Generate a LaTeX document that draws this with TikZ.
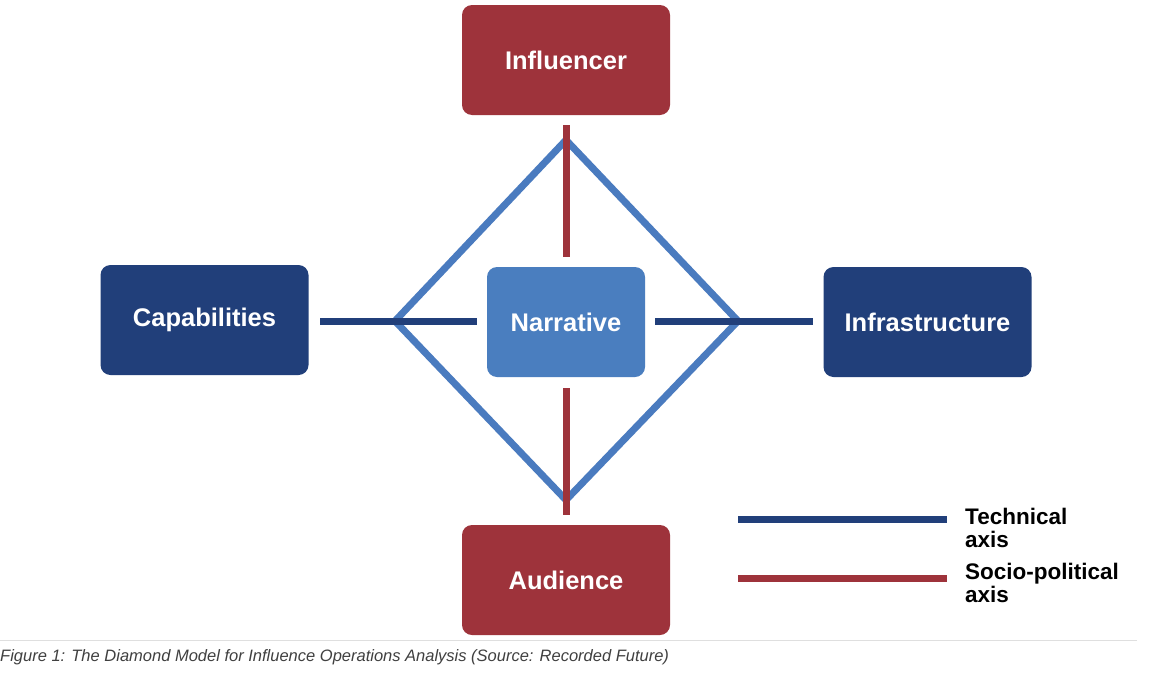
\documentclass[tikz,border=0pt]{standalone}
\usepackage{fontspec}
\setmainfont{Liberation Sans}
\begin{document}
\begin{tikzpicture}[x=1pt,y=-1pt,
 box/.style={rounded corners=10pt,minimum width=208pt,minimum height=110pt,text=white,font=\fontsize{25.5}{30}\selectfont\bfseries,inner sep=0pt},
 red/.style={box,fill=axred},
 blue/.style={box,fill=axblue},
 tl/.style={line width=7pt,axblue},
 sl/.style={line width=7pt,axred},
 dl/.style={line width=7pt,diam},
 leg/.style={font=\fontsize{22.5}{23}\selectfont\bfseries,align=left,anchor=north west,inner sep=0pt}]
\definecolor{axred}{HTML}{9E333B}
\definecolor{axblue}{HTML}{213F7A}
\definecolor{diam}{HTML}{4A7BBF}
\definecolor{narr}{HTML}{4A7EBF}
\useasboundingbox (0,0) rectangle (1150,688);
\fill[white] (0,0) rectangle (1150,688);
\coordinate (dt) at (566,140); \coordinate (dlft) at (395,321);
\coordinate (dr) at (738,321); \coordinate (db) at (566,500);
\draw[dl,line join=miter] (dt)--(dr)--(db)--(dlft)--cycle;
\coordinate (s1) at (566,125); \coordinate (s2) at (566,257);
\coordinate (s3) at (566,388); \coordinate (s4) at (566,515);
\draw[sl] (s1)--(s2); \draw[sl] (s3)--(s4);
\coordinate (t1) at (320,321); \coordinate (t2) at (477,321);
\coordinate (t3) at (655,321); \coordinate (t4) at (813,321);
\draw[tl] (t1)--(t2); \draw[tl] (t3)--(t4);
\node[red] (inf) at (566,60) {Influencer};
\node[red] (aud) at (566,580) {Audience};
\node[blue] (cap) at (204.5,320) {Capabilities};
\node[blue] (infra) at (927.5,322) {Infrastructure};
\node[box,fill=narr,minimum width=158pt] (nar) at (566,322) {Narrative};
\coordinate (l1) at (738,519); \coordinate (l2) at (947,519);
\coordinate (l3) at (738,578); \coordinate (l4) at (947,578);
\draw[tl] (l1)--(l2); \draw[sl] (l3)--(l4);
\node[leg] (lt) at (965,508) {Technical\\axis};
\node[leg] (ls) at (965,563) {Socio-political\\axis};
\draw[gray!25,line width=1pt] (0,640)--(1137,640);
\node[anchor=west,inner sep=0pt,text=black!75,font=\fontsize{16.5}{19}\selectfont\itshape] (cap2) at (0,657) {Figure 1: The Diamond Model for Influence Operations Analysis (Source: Recorded Future)};
\end{tikzpicture}
\end{document}
